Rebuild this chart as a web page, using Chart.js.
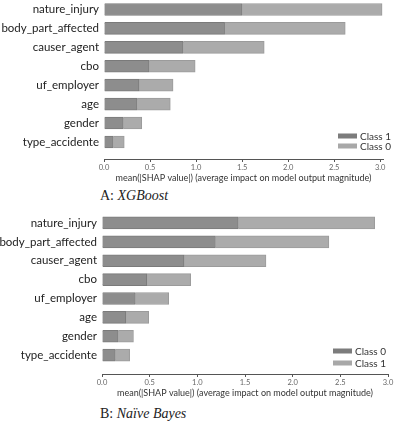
<!DOCTYPE html>
<html><head><meta charset="utf-8">
<script src="https://cdn.jsdelivr.net/npm/chart.js@4/dist/chart.umd.min.js"></script>
<style>
html,body{margin:0;padding:0;background:#fff;width:394px;height:421px;overflow:hidden;position:relative}
.box{position:absolute;left:0;width:394px}
.cap{position:absolute;font-family:"Liberation Serif",serif;font-size:14px;color:#222}
</style></head><body>
<div class="box" style="top:0;height:183px"><canvas id="a"></canvas></div>
<div class="cap" style="left:100px;top:188px">A: <i>XGBoost</i></div>
<div class="box" style="top:205px;height:193px"><canvas id="b"></canvas></div>
<div class="cap" style="left:100px;top:406px">B: <i>Naïve Bayes</i></div>
<script>
const features = ["nature_injury","body_part_affected","causer_agent","cbo","uf_employer","age","gender","type_accidente"];
const tickLabels = ["0.0","0.5","1.0","1.5","2.0","2.5","3.0"];
const axisTitle = "mean(|SHAP value|) (average impact on model output magnitude)";
// XGBoost
const xgbLabels = ["Class 1","Class 0"];
const xgbClass1 = [1.50,1.31,0.86,0.49,0.38,0.36,0.21,0.10];
const xgbClass0 = [1.52,1.31,0.88,0.50,0.37,0.36,0.20,0.12];
// Naive Bayes
const nbLabels = ["Class 0","Class 1"];
const nbClass0 = [1.43,1.19,0.86,0.47,0.35,0.25,0.17,0.14];
const nbClass1 = [1.43,1.19,0.86,0.46,0.35,0.24,0.16,0.15];

const darkFill="#8d8d8d", darkBorder="#7a7a7a", lightFill="#ababab", lightBorder="#9b9b9b";
const FONT='Lato, "Open Sans", sans-serif';

const legendPlugin = {
  id:'cornerLegend',
  afterDraw(chart, args, opts){
    const {ctx, chartArea:ca} = chart;
    ctx.save();
    chart.data.datasets.forEach((ds,i)=>{
      const cy = ca.bottom - opts.yOff[i];
      const bx = ca.right - opts.xOff;
      ctx.fillStyle = ds.legendColor;
      ctx.fillRect(bx-19, cy-2.5, 19, 5);
      ctx.fillStyle = "#333";
      ctx.font = "10px " + FONT;
      ctx.textBaseline = "middle";
      ctx.textAlign = "left";
      ctx.fillText(ds.label, bx+3, cy+0.5);
    });
    ctx.restore();
  }
};
function make(id, labels, v1, v2, opt){
  new Chart(document.getElementById(id), {
    type:'bar',
    data:{
      datasets:[
        {label:labels[0], data:v1.map((v,i)=>({x:v,y:i})), backgroundColor:darkFill, borderColor:darkBorder, borderWidth:1, legendColor:"#7c7c7c"},
        {label:labels[1], data:v2.map((v,i)=>({x:v,y:i})), backgroundColor:lightFill, borderColor:lightBorder, borderWidth:1, legendColor:"#a8a8a8"}
      ]
    },
    options:{
      indexAxis:'y',
      responsive:true, maintainAspectRatio:false, animation:false,
      barThickness:12,
      layout:{padding:{top:opt.padTop, right:opt.padRight, left:0, bottom:0}},
      plugins:{legend:{display:false}, tooltip:{enabled:false}, cornerLegend:opt.legend},
      scales:{
        y:{
          type:'linear', offset:false, stacked:true, reverse:true, min:-0.5, max:opt.ymax,
          afterBuildTicks:s=>{s.ticks=features.map((_,i)=>({value:i}));},
          afterFit:s=>{s.width=opt.left; s.paddingTop=0; s.paddingBottom=0;},
          grid:{display:true, offset:false, drawOnChartArea:false, color:'rgba(0,0,0,0)', tickLength:5},
          border:{display:false},
          ticks:{callback:v=>features[v], color:"#222", font:{family:FONT,size:11.5,lineHeight:0.01}, padding:0, autoSkip:false}
        },
        x:{
          type:'linear', stacked:true, min:0, max:opt.xmax,
          afterBuildTicks:s=>{s.ticks=tickLabels.map(t=>({value:parseFloat(t)}));},
          afterFit:s=>{s.height=24; s.paddingLeft=0; s.paddingRight=0;},
          grid:{drawOnChartArea:false, color:"#555", tickLength:3},
          border:{color:"#555", width:1},
          ticks:{callback:(v,i)=>tickLabels[i], color:"#666", font:{family:FONT,size:7.5}, padding:1, maxRotation:0},
          title:{display:true, text:axisTitle, color:"#333", font:{family:FONT,size:9}, padding:{top:1,bottom:0}}
        }
      }
    },
    plugins:[legendPlugin]
  });
}
make('a', xgbLabels, xgbClass1, xgbClass0, {padTop:0, padRight:11, left:104, ymax:7.9, xmax:3.03, legend:{xOff:26, yOff:[23,13]}});
make('b', nbLabels, nbClass0, nbClass1, {padTop:8.5, padRight:6, left:102, ymax:8.0, xmax:3.0, legend:{xOff:36, yOff:[23,11]}});
</script>
</body></html>
